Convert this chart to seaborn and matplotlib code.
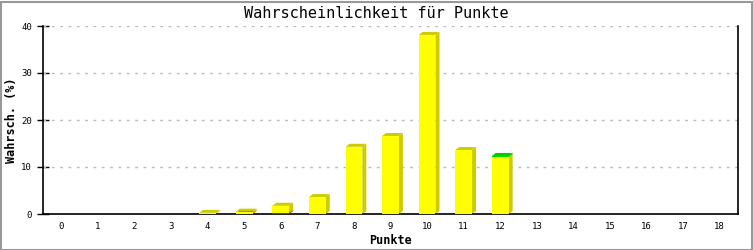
import matplotlib
matplotlib.use("Agg")
import matplotlib.pyplot as plt
import seaborn as sns
import pandas as pd
import numpy as np
from matplotlib.patches import Polygon, Rectangle

# ---- data ----
punkte = list(range(0, 19))
gelb = [0, 0, 0, 0, 0.25, 0.4, 1.55, 3.6, 14.3, 16.6, 38.1, 13.6, 12.1, 0, 0, 0, 0, 0, 0]
rot = [0, 0, 0, 0, 0, 0.1, 0.2, 0, 0, 0, 0, 0, 0, 0, 0, 0, 0, 0, 0]
gruen = [0, 0, 0, 0, 0, 0, 0, 0, 0, 0, 0, 0, 0.25, 0, 0, 0, 0, 0, 0]
yticks = [0, 10, 20, 30, 40]

title = "Wahrscheinlichkeit für Punkte"
xlabel = "Punkte"
ylabel = "Wahrsch. (%)"

# series stacked bottom to top: red, yellow, green
series = [("rot", rot, "#ff0000", "#cc0000"),
          ("gelb", gelb, "#ffff00", "#cccc00"),
          ("gruen", gruen, "#00dd00", "#00cc00")]

sns.set_theme(style="white")
plt.rcParams["font.family"] = ["DejaVu Sans Mono", "DejaVu Sans"]
plt.rcParams["text.color"] = "black"
plt.rcParams["xtick.color"] = "black"
plt.rcParams["ytick.color"] = "black"

W, H = 753, 250
fig = plt.figure(figsize=(W / 100, H / 100), dpi=100)
fig.patch.set_facecolor("white")
fig.patches.append(Rectangle((0.5 / W, 0.5 / H), 1 - 2 / W, 1 - 2 / H, transform=fig.transFigure,
                             fill=False, edgecolor="#999999", linewidth=1.5))

x0, x1, y0, y1 = 43, 738, 36, 224
ax = fig.add_axes([x0 / W, y0 / H, (x1 - x0) / W, (y1 - y0) / H])

ax.set_xlim(-0.5, 18.5)
ax.set_ylim(0, 40)

px_x = (x1 - x0) / 19.0   # pixels per x unit
px_y = (y1 - y0) / 40.0   # pixels per y unit
dx = 4.0 / px_x
dy = 3.0 / px_y
width = 0.46

bottom = np.zeros(len(punkte))
for name, vals, front, dark in series:
    df = pd.DataFrame({"Punkte": [str(p) for p in punkte], "v": np.array(vals) + bottom})
    before = len(ax.patches)
    sns.barplot(data=df, x="Punkte", y="v", color=front, saturation=1, width=width,
                ax=ax, linewidth=0, order=[str(p) for p in punkte], zorder=3)
    new = ax.patches[before:]
    for patch, v, b in zip(new, vals, bottom):
        patch.set_y(b)
        patch.set_height(v)
        patch.set_edgecolor("none")
        if v <= 0:
            patch.set_visible(False)
            continue
        xl = patch.get_x()
        xr = xl + patch.get_width()
        top = b + v
        ax.add_patch(Polygon([(xr, b), (xr + dx, b + dy), (xr + dx, top + dy), (xr, top)],
                             closed=True, facecolor=dark, edgecolor="none", zorder=2))
        ax.add_patch(Polygon([(xl, top), (xl + dx, top + dy), (xr + dx, top + dy), (xr, top)],
                             closed=True, facecolor=dark, edgecolor="none", zorder=2))
    bottom = bottom + np.array(vals)

ax.set_ylim(0, 40)
ax.set_xlim(-0.5, 18.5)

for yv in yticks[1:]:
    ax.axhline(yv, color="#bbbbbb", linestyle=(0, (2, 4)), linewidth=1, zorder=1)

ax.set_yticks(yticks)
ax.set_yticklabels([str(t) for t in yticks], fontsize=6.5)
ax.set_xticks(range(len(punkte)))
ax.set_xticklabels([str(p) for p in punkte], fontsize=6.5)
ax.tick_params(axis="y", direction="inout", length=8, width=1, color="black", pad=4, left=True)
ax.tick_params(axis="x", length=0, pad=6)

for s in ["left", "bottom", "right"]:
    ax.spines[s].set_visible(True)
    ax.spines[s].set_color("black")
    ax.spines[s].set_linewidth(1.2)
ax.spines["top"].set_visible(False)

ax.set_xlabel("")
ax.set_ylabel("")
fig.text(390 / W, 1 - 240 / H, xlabel, ha="center", va="center", fontsize=8.5,
         fontweight="bold", color="black")
fig.text(12 / W, 1 - 120 / H, ylabel, ha="center", va="center", rotation=90,
         fontsize=8.5, fontweight="bold", color="black")
fig.text(0.5, 1 - 13 / H, title, ha="center", va="center", fontsize=11, color="black")

fig.savefig("out.png", dpi=100)
